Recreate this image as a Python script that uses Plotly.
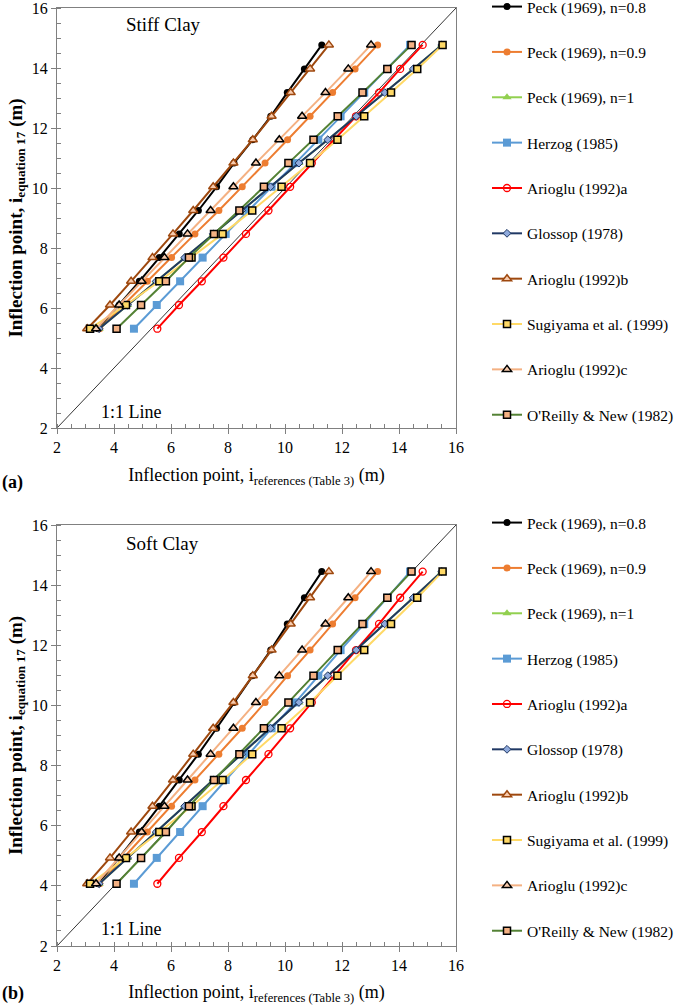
import plotly.graph_objects as go

# ---- data ----
names = ["Peck (1969), n=0.8", "Peck (1969), n=0.9", "Peck (1969), n=1", "Herzog (1985)",
         "Arioglu (1992)a", "Glossop (1978)", "Arioglu (1992)b", "Sugiyama et al. (1999)",
         "Arioglu (1992)c", "O'Reilly & New (1982)"]

peck_08 = [3.45, 4.18, 4.89, 5.59, 6.29, 6.96, 7.60, 8.21, 8.87, 9.50, 10.08, 10.68, 11.29]
peck_09 = [3.50, 4.33, 5.17, 6.02, 6.84, 7.68, 8.50, 9.30, 10.09, 10.88, 11.67, 12.46, 13.25]
peck_10 = [3.48, 4.48, 5.48, 6.48, 7.48, 8.48, 9.49, 10.49, 11.50, 12.50, 13.50, 14.50, 15.50]
herzog = [4.70, 5.50, 6.32, 7.11, 7.92, 8.73, 9.53, 10.37, 11.17, 11.95, 12.78, 13.60, 14.39]
arioglu_a = [5.52, 6.28, 7.08, 7.84, 8.63, 9.42, 10.18, 10.94, 11.72, 12.49, 13.30, 14.04, 14.83]
glossop = [3.48, 4.48, 5.48, 6.48, 7.48, 8.48, 9.49, 10.49, 11.50, 12.50, 13.50, 14.50, 15.50]
arioglu_b = [3.06, 3.86, 4.60, 5.35, 6.07, 6.78, 7.48, 8.19, 8.87, 9.53, 10.20, 10.88, 11.54]
sugiyama = [3.16, 4.42, 5.59, 6.72, 7.81, 8.85, 9.88, 10.88, 11.84, 12.78, 13.72, 14.64, 15.53]
arioglu_c = [3.37, 4.18, 4.97, 5.77, 6.58, 7.39, 8.19, 8.98, 9.80, 10.60, 11.42, 12.22, 13.02]
oreilly = [4.09, 4.95, 5.82, 6.63, 7.51, 8.40, 9.26, 10.12, 11.00, 11.85, 12.72, 13.59, 14.44]

i_eq17_stiff = [5.31, 6.10, 6.89, 7.68, 8.47, 9.25, 10.04, 10.83, 11.61, 12.39, 13.18, 13.97, 14.77]
i_eq17_soft = [4.07, 4.93, 5.79, 6.65, 7.52, 8.38, 9.24, 10.10, 10.99, 11.84, 12.71, 13.58, 14.45]

one_to_one = [2, 16]
tick_vals = [2, 4, 6, 8, 10, 12, 14, 16]

series_x = [peck_08, peck_09, peck_10, herzog, arioglu_a, glossop, arioglu_b, sugiyama, arioglu_c, oreilly]

# ---- styles ----
styles = [
    dict(line="#000000", symbol="circle", size=7, fill="#000000", edge="#000000", ew=0),
    dict(line="#ED7D31", symbol="circle", size=7, fill="#ED7D31", edge="#ED7D31", ew=0),
    dict(line="#92D050", symbol="triangle-up", size=8, fill="#92D050", edge="#92D050", ew=0),
    dict(line="#5B9BD5", symbol="square", size=8, fill="#5B9BD5", edge="#5B9BD5", ew=0),
    dict(line="#FF0000", symbol="circle-open", size=7, fill="#FF0000", edge="#FF0000", ew=1.3),
    dict(line="#203864", symbol="diamond", size=6, fill="#8FAADC", edge="#203864", ew=1),
    dict(line="#9E480E", symbol="triangle-up", size=8, fill="#F8CBAD", edge="#9E480E", ew=1.5),
    dict(line="#FFD966", symbol="square", size=7, fill="#FFD966", edge="#000000", ew=1.5),
    dict(line="#F4B183", symbol="triangle-up", size=8, fill="#F8CBAD", edge="#000000", ew=1.5),
    dict(line="#548235", symbol="square", size=7, fill="#F4B183", edge="#000000", ew=1.5),
]

SERIF = "Liberation Serif, Times New Roman, serif"
fig = go.Figure()

panels = [("x", "y", i_eq17_stiff, "legend"), ("x2", "y2", i_eq17_soft, "legend2")]
for xa, ya, yvals, leg in panels:
    fig.add_trace(go.Scatter(x=one_to_one, y=one_to_one, mode="lines", xaxis=xa, yaxis=ya,
                             line=dict(color="#000000", width=0.8), showlegend=False,
                             hoverinfo="skip"))
    for k, (nm, xs) in enumerate(zip(names, series_x)):
        s = styles[k]
        fig.add_trace(go.Scatter(
            x=xs, y=yvals, mode="lines+markers", name=nm, xaxis=xa, yaxis=ya,
            legend=leg, legendgroup=f"{leg}_{k}",
            line=dict(color=s["line"], width=2),
            marker=dict(symbol=s["symbol"], size=s["size"], color=s["fill"],
                        line=dict(color=s["edge"], width=s["ew"]))))

W, H = 685, 1005
def px_x(p):
    return p / W
def px_y(p):
    return 1 - p / H

axis_common = dict(range=[2, 16], tickvals=tick_vals, showgrid=False, zeroline=False,
                   showline=True, linecolor="#808080", linewidth=1.3, mirror=True,
                   ticks="outside", ticklen=5, tickcolor="#808080",
                   ticklabeloverflow="allow",
                   minor=dict(dtick=0.5, ticks="inside", ticklen=4, tickcolor="#808080"),
                   tickfont=dict(family=SERIF, size=16, color="#000000"))

xtitle = dict(text="Inflection point, i<sub>references (Table 3)</sub> (m)",
              font=dict(family=SERIF, size=18, color="#000000"), standoff=13)
ytitle = dict(text="<b>Inflection point, i<sub>equation 17</sub> (m)</b>",
              font=dict(family=SERIF, size=19, color="#000000"), standoff=4)

xdom = [px_x(57), px_x(456)]
leg_common = dict(xanchor="left", yanchor="top",
                  font=dict(family=SERIF, size=15.5, color="#000000"),
                  tracegroupgap=22.2, bgcolor="rgba(0,0,0,0)", itemwidth=30)
fig.update_layout(
    width=W, height=H, margin=dict(l=0, r=0, t=0, b=0, autoexpand=False),
    plot_bgcolor="white", paper_bgcolor="white",
    xaxis=dict(domain=xdom, anchor="y", title=xtitle, **axis_common),
    yaxis=dict(domain=[px_y(428), px_y(8)], anchor="x", title=ytitle, **axis_common),
    xaxis2=dict(domain=xdom, anchor="y2", title=xtitle, **axis_common),
    yaxis2=dict(domain=[px_y(946), px_y(525)], anchor="x2", title=ytitle, **axis_common),
    legend=dict(x=px_x(487), y=px_y(-10), **leg_common),
    legend2=dict(x=px_x(487), y=px_y(506), **leg_common),
    showlegend=True,
    annotations=[
        dict(text="Stiff Clay", x=px_x(124), y=px_y(25), xref="paper", yref="paper",
             xanchor="left", yanchor="middle", showarrow=False,
             font=dict(family=SERIF, size=19, color="#000000")),
        dict(text="1:1 Line", x=px_x(99), y=px_y(412), xref="paper", yref="paper",
             xanchor="left", yanchor="middle", showarrow=False,
             font=dict(family=SERIF, size=18, color="#000000")),
        dict(text="<b>(a)</b>", x=px_x(0), y=px_y(482), xref="paper", yref="paper",
             xanchor="left", yanchor="middle", showarrow=False,
             font=dict(family=SERIF, size=18, color="#000000")),
        dict(text="Soft Clay", x=px_x(124), y=px_y(543), xref="paper", yref="paper",
             xanchor="left", yanchor="middle", showarrow=False,
             font=dict(family=SERIF, size=19, color="#000000")),
        dict(text="1:1 Line", x=px_x(99), y=px_y(929), xref="paper", yref="paper",
             xanchor="left", yanchor="middle", showarrow=False,
             font=dict(family=SERIF, size=18, color="#000000")),
        dict(text="<b>(b)</b>", x=px_x(0), y=px_y(993), xref="paper", yref="paper",
             xanchor="left", yanchor="middle", showarrow=False,
             font=dict(family=SERIF, size=18, color="#000000")),
    ],
)

fig.write_html("out.html", config={"displayModeBar": False},
               post_script="document.body.style.margin='0px';document.body.style.overflow='hidden';")
